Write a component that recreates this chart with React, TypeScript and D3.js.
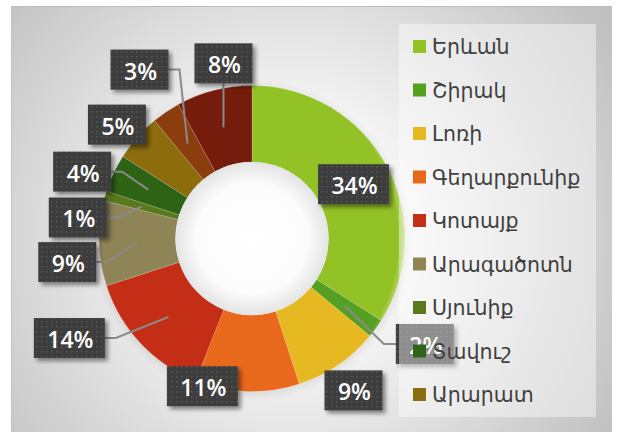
import React from 'react';
import * as d3 from 'd3';

const categories = ['Երևան', 'Շիրակ', 'Լոռի', 'Գեղարքունիք', 'Կոտայք', 'Արագածոտն', 'Սյունիք', 'Տավուշ', 'Արարատ', 'Վայոց ձոր', 'Արմավիր'];
const values = [34, 2, 9, 11, 14, 9, 1, 4, 5, 3, 8];
const colors = ['#92c225', '#54a020', '#e6b820', '#e8681a', '#c42f18', '#8f8456', '#5a781e', '#2f6316', '#8c6c10', '#8c3e10', '#761a10'];

// label layout: offset of label box centre from slice centroid, and whether a leader line is drawn
const labelDx = [1, 80, 37, -46, -99, -70, -64, -66, -49, -48, 0];
const labelDy = [1, 38, 57, 33, 21, 20, 11, -18, -38, -74, -64];
const showLine = [false, true, false, false, true, true, true, true, false, true, true];

const W = 618, H = 432;
const cx = 252, cy = 238.5;
const outerR = 153, innerR = 76.5;
const legendShown = 9;

export default function App() {
  const pie = d3.pie<number>().sort(null).value(d => d).startAngle(0).endAngle(2 * Math.PI);
  const arcs = pie(values);
  const arc = d3.arc<d3.PieArcDatum<number>>().innerRadius(innerR).outerRadius(outerR);
  const total = d3.sum(values);
  const fmt = (v: number) => `${Math.round((v / total) * 100)}%`;

  const legendY = d3.scalePoint<number>().domain(d3.range(legendShown)).range([47, 395]);

  const labels = arcs.map((a, i) => {
    const [px, py] = arc.centroid(a);
    const x0 = cx + px, y0 = cy + py;
    const text = fmt(a.data);
    const digits = text.length - 1;
    const bw = 45 + 13 * digits, bh = 40;
    const bx = x0 + labelDx[i] - bw / 2;
    const by = y0 + labelDy[i] - bh / 2;
    let path = '';
    if (showLine[i]) {
      const bcy = by + bh / 2;
      if (bx + bw < x0) {
        path = `M${x0},${y0}L${bx + bw + 11},${bcy}L${bx + bw},${bcy}`;
      } else if (bx > x0) {
        path = `M${x0},${y0}L${bx - 12},${bcy}L${bx},${bcy}`;
      } else if (by + bh < y0) {
        path = `M${x0},${y0}L${x0},${by + bh}`;
      } else {
        path = `M${x0},${y0}L${x0},${by}`;
      }
    }
    return { i, text, bx, by, bw, bh, path };
  });

  return (
    <svg width={W} height={H} style={{ position: 'absolute', left: 0, top: 0 }}>
      <defs>
        <radialGradient id="bg" gradientUnits="userSpaceOnUse" cx={290} cy={235} r={380}>
          <stop offset="0" stopColor="#ffffff" />
          <stop offset="0.35" stopColor="#f3f3f3" />
          <stop offset="1" stopColor="#c0c0c0" />
        </radialGradient>
        <radialGradient id="hole" gradientUnits="userSpaceOnUse" cx={0} cy={0} r={innerR}>
          <stop offset="0" stopColor="#ffffff" />
          <stop offset="0.72" stopColor="#fcfcfc" />
          <stop offset="1" stopColor="#e4e4e4" />
        </radialGradient>
        <radialGradient id="rim" gradientUnits="userSpaceOnUse" cx={-25} cy={0} r={outerR + 25}>
          <stop offset="0" stopColor="#ffffff" stopOpacity={0} />
          <stop offset="0.96" stopColor="#ffffff" stopOpacity={0} />
          <stop offset="1" stopColor="#ffffff" stopOpacity={0.35} />
        </radialGradient>
        <pattern id="dots" width={5} height={5} patternUnits="userSpaceOnUse">
          <rect width={5} height={5} fill="#3e3e3e" />
          <rect x={1} y={1} width={1.5} height={1.5} fill="#575757" />
        </pattern>
        <filter id="shadow" x="-30%" y="-30%" width="160%" height="170%">
          <feDropShadow dx={3} dy={3} stdDeviation={2} floodColor="#000" floodOpacity={0.45} />
        </filter>
        <filter id="pieShadow" x="-20%" y="-20%" width="140%" height="140%">
          <feDropShadow dx={0} dy={2} stdDeviation={4} floodColor="#000" floodOpacity={0.12} />
        </filter>
      </defs>
      <rect x={0} y={0} width={W} height={H} fill="#ffffff" />
      <rect x={11} y={6} width={601} height={430} fill="url(#bg)" />
      <line x1={11} x2={612} y1={6.5} y2={6.5} stroke="#bcbcbc" strokeWidth={1} />
      <line x1={11.5} x2={11.5} y1={6} y2={432} stroke="#c4c4c4" strokeWidth={1} />

      <g transform={`translate(${cx},${cy})`}>
        <g filter="url(#pieShadow)">
          {arcs.map((a, i) => (
            <path key={i} d={arc(a) || ''} fill={colors[i]} stroke="rgba(255,255,255,0.22)" strokeWidth={0.7} />
          ))}
        </g>
        <circle r={outerR} fill="url(#rim)" />
        <circle r={innerR} fill="url(#hole)" />
      </g>

      {labels.map(l => l.path ? (
        <path key={'l' + l.i} d={l.path} fill="none" stroke="#8a8a8a" strokeWidth={2} />
      ) : null)}

      {labels.map(l => (
        <g key={'b' + l.i}>
          <rect x={l.bx} y={l.by} width={l.bw} height={l.bh} fill="url(#dots)" filter="url(#shadow)" />
          <text x={l.bx + l.bw / 2 + 1} y={l.by + l.bh / 2 + 1} fill="#ffffff" textAnchor="middle" dominantBaseline="central"
            style={{ font: '600 23px "Open Sans", sans-serif' }}>{l.text}</text>
        </g>
      ))}

      <rect x={399} y={24} width={197} height={393} fill="#ffffff" fillOpacity={0.42} />
      {d3.range(legendShown).map(i => (
        <g key={'g' + i} transform={`translate(413,${legendY(i)})`}>
          <rect x={0} y={-7} width={13} height={13} fill={colors[i]} />
          <text x={19} y={0} fill="#404040" dominantBaseline="central" style={{ font: '20.5px "DejaVu Sans", sans-serif' }}>{categories[i]}</text>
        </g>
      ))}
    </svg>
  );
}
